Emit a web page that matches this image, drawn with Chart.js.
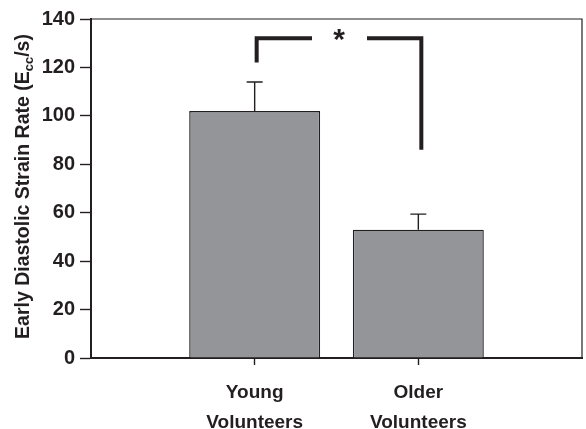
<!DOCTYPE html>
<html>
<head>
<meta charset="utf-8">
<script src="https://cdn.jsdelivr.net/npm/chart.js@4.4.1/dist/chart.umd.min.js"></script>
<style>
  html, body { margin: 0; padding: 0; background: #fff; }
  #wrap { width: 586px; height: 429px; }
</style>
</head>
<body>
<div id="wrap"><canvas id="strainChart" width="586" height="429"></canvas></div>
<script>
// datos
const categories = [['Young', 'Volunteers'], ['Older', 'Volunteers']];
const means = [102, 53];
const errors = [12, 6.4];
const yTicks = [0, 20, 40, 60, 80, 100, 120, 140];
// corchete de significancia: altura, extremo izquierdo, extremo derecho
const bracket = { top: 132, leftEnd: 122, rightEnd: 86, mark: '*' };

const ink = '#231f20';
const labels = [''].concat(categories, ['']);
const values = [null].concat(means, [null]);

// caja del área de trazado (bordes superior y derecho)
const frame = {
  id: 'frame',
  afterDraw(chart) {
    const { ctx, chartArea: a } = chart;
    ctx.save();
    ctx.strokeStyle = ink;
    ctx.lineWidth = 1.2;
    ctx.beginPath();
    ctx.moveTo(a.left, a.top); ctx.lineTo(a.right, a.top); ctx.lineTo(a.right, a.bottom);
    ctx.stroke();
    ctx.restore();
  }
};

// barras de error (solo la parte superior)
const errorBars = {
  id: 'errorBars',
  afterDatasetsDraw(chart) {
    const { ctx, scales: { x, y } } = chart;
    ctx.save();
    ctx.strokeStyle = ink;
    ctx.lineWidth = 1.4;
    means.forEach((m, i) => {
      const px = x.getPixelForValue(i + 1);
      const y0 = y.getPixelForValue(m);
      const y1 = y.getPixelForValue(m + errors[i]);
      ctx.beginPath();
      ctx.moveTo(px, y0); ctx.lineTo(px, y1);
      ctx.moveTo(px - 8, y1); ctx.lineTo(px + 8, y1);
      ctx.stroke();
    });
    ctx.restore();
  }
};

// corchete con asterisco
const sigBracket = {
  id: 'sigBracket',
  afterDatasetsDraw(chart) {
    const { ctx, scales: { x, y } } = chart;
    const xl = x.getPixelForValue(1) + 2;
    const xr = x.getPixelForValue(2) + 3;
    const yt = y.getPixelForValue(bracket.top);
    const mid = (xl + xr) / 2;
    ctx.save();
    ctx.strokeStyle = ink;
    ctx.lineWidth = 4;
    ctx.lineCap = 'butt';
    ctx.lineJoin = 'miter';
    ctx.beginPath();
    ctx.moveTo(xl, y.getPixelForValue(bracket.leftEnd));
    ctx.lineTo(xl, yt);
    ctx.lineTo(mid - 27, yt);
    ctx.moveTo(mid + 28, yt);
    ctx.lineTo(xr, yt);
    ctx.lineTo(xr, y.getPixelForValue(bracket.rightEnd));
    ctx.stroke();
    ctx.fillStyle = ink;
    ctx.font = 'bold 30px "Liberation Sans", Arial, sans-serif';
    ctx.textAlign = 'center';
    ctx.textBaseline = 'middle';
    ctx.fillText(bracket.mark, mid, yt + 2);
    ctx.restore();
  }
};

// título del eje Y con subíndice
const yTitle = {
  id: 'yTitle',
  afterDraw(chart) {
    const { ctx, chartArea: a } = chart;
    const big = 'bold 19.5px "Liberation Sans", Arial, sans-serif';
    const small = 'bold 13px "Liberation Sans", Arial, sans-serif';
    const parts = [
      { t: 'Early Diastolic Strain Rate (E', f: big, dy: 0 },
      { t: 'cc', f: small, dy: 4 },
      { t: '/s)', f: big, dy: 0 }
    ];
    ctx.save();
    let total = 0;
    parts.forEach(p => { ctx.font = p.f; p.w = ctx.measureText(p.t).width; total += p.w; });
    ctx.translate(29, (a.top + a.bottom) / 2 - 2);
    ctx.rotate(-Math.PI / 2);
    ctx.fillStyle = ink;
    ctx.textBaseline = 'alphabetic';
    let cx = -total / 2;
    parts.forEach(p => {
      ctx.font = p.f;
      ctx.fillText(p.t, cx, p.dy);
      cx += p.w;
    });
    ctx.restore();
  }
};

const ctx = document.getElementById('strainChart').getContext('2d');
new Chart(ctx, {
  type: 'bar',
  data: {
    labels: labels,
    datasets: [{
      data: values,
      backgroundColor: '#939598',
      borderColor: ink,
      borderWidth: 1.4,
      borderSkipped: 'bottom',
      barPercentage: 0.8,
      categoryPercentage: 1
    }]
  },
  options: {
    responsive: false,
    animation: false,
    layout: { padding: { top: 19, right: 4, left: 0, bottom: 0 } },
    plugins: { legend: { display: false }, tooltip: { enabled: false } },
    scales: {
      x: {
        offset: false,
        grid: {
          offset: false,
          drawOnChartArea: false,
          tickLength: 7,
          tickWidth: 1.4,
          tickColor: c => (c.index === 1 || c.index === 2) ? ink : 'rgba(0,0,0,0)'
        },
        border: { color: ink, width: 2 },
        ticks: {
          color: ink,
          padding: 13,
          autoSkip: false,
          maxRotation: 0,
          font: { family: '"Liberation Sans", Arial, sans-serif', size: 19, weight: 'bold', lineHeight: 1.58 }
        },
        afterFit: s => { s.height = 71; s.paddingLeft = 0; s.paddingRight = 0; }
      },
      y: {
        min: 0,
        max: 140,
        afterBuildTicks: s => { s.ticks = yTicks.map(v => ({ value: v })); },
        grid: { drawOnChartArea: false, tickLength: 11, tickWidth: 1.4, tickColor: ink },
        border: { color: ink, width: 2 },
        ticks: {
          color: ink,
          padding: 5,
          font: { family: '"Liberation Sans", Arial, sans-serif', size: 20, weight: 'bold' }
        },
        afterFit: s => { s.width = 91; }
      }
    }
  },
  plugins: [frame, errorBars, sigBracket, yTitle]
});
</script>
</body>
</html>
